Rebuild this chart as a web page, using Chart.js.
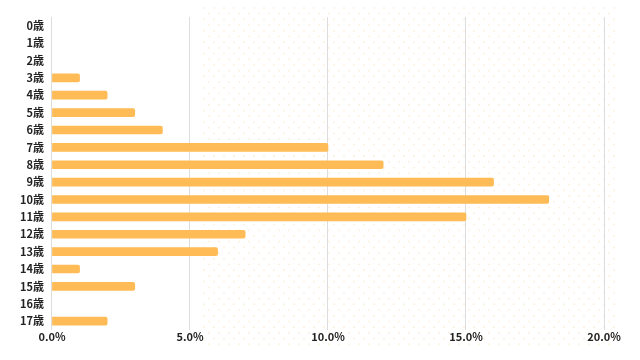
<!DOCTYPE html>
<html>
<head>
<meta charset="utf-8">
<script src="https://cdn.jsdelivr.net/npm/chart.js@4/dist/chart.umd.min.js"></script>
<style>
  html, body { margin: 0; padding: 0; background: #fff; }
  #wrap { width: 640px; height: 360px; position: relative; }
</style>
</head>
<body>
<div id="wrap"><canvas id="chart"></canvas></div>
<script>
const ages = ['0歳', '1歳', '2歳', '3歳', '4歳', '5歳', '6歳', '7歳', '8歳',
  '9歳', '10歳', '11歳', '12歳', '13歳', '14歳', '15歳', '16歳', '17歳'];
const shares = [0, 0, 0, 1, 2, 3, 4, 10, 12, 16, 18, 15, 7, 6, 1, 3, 0, 2];
const tickValues = [0, 5, 10, 15, 20];

Chart.defaults.font.family = "'Noto Sans CJK JP', 'Noto Sans', sans-serif";

// faint dotted backdrop on the right side
const dotsBackdrop = {
  id: 'dotsBackdrop',
  beforeDraw(chart) {
    const ctx = chart.ctx;
    ctx.save();
    ctx.fillStyle = '#fdf3e4';
    let row = 0;
    for (let y = 8; y < 345; y += 5.7) {
      const shift = (row % 2) * 5;
      for (let x = 204 + shift; x < 615; x += 10) {
        ctx.beginPath();
        ctx.arc(x, y, 1.1, 0, Math.PI * 2);
        ctx.fill();
      }
      row++;
    }
    ctx.restore();
  }
};

new Chart(document.getElementById('chart'), {
  type: 'bar',
  data: {
    labels: ages,
    datasets: [{
      // zero rows get no bar at all
      data: shares.map(v => v === 0 ? null : v),
      backgroundColor: '#ffbb55',
      borderRadius: 2,
      barThickness: 8
    }]
  },
  options: {
    indexAxis: 'y',
    responsive: true,
    maintainAspectRatio: false,
    animation: false,
    layout: { padding: { top: 17, right: 36, bottom: 17, left: 12 } },
    plugins: {
      legend: { display: false },
      tooltip: { enabled: false }
    },
    scales: {
      x: {
        min: 0,
        max: 20,
        afterBuildTicks: function(axis) {
          axis.ticks = tickValues.map(v => ({ value: v }));
        },
        border: { display: false },
        grid: { color: '#dddddd', lineWidth: 1, drawTicks: false },
        ticks: {
          padding: 0,
          color: '#222',
          font: { size: 11, weight: 'bold' },
          callback: function(value) { return value.toFixed(1) + '%'; }
        }
      },
      y: {
        border: { display: false },
        grid: { display: false, drawTicks: false },
        ticks: {
          padding: 8,
          color: '#222',
          font: { size: 11, weight: 'bold' }
        }
      }
    }
  },
  plugins: [dotsBackdrop]
});
</script>
</body>
</html>
